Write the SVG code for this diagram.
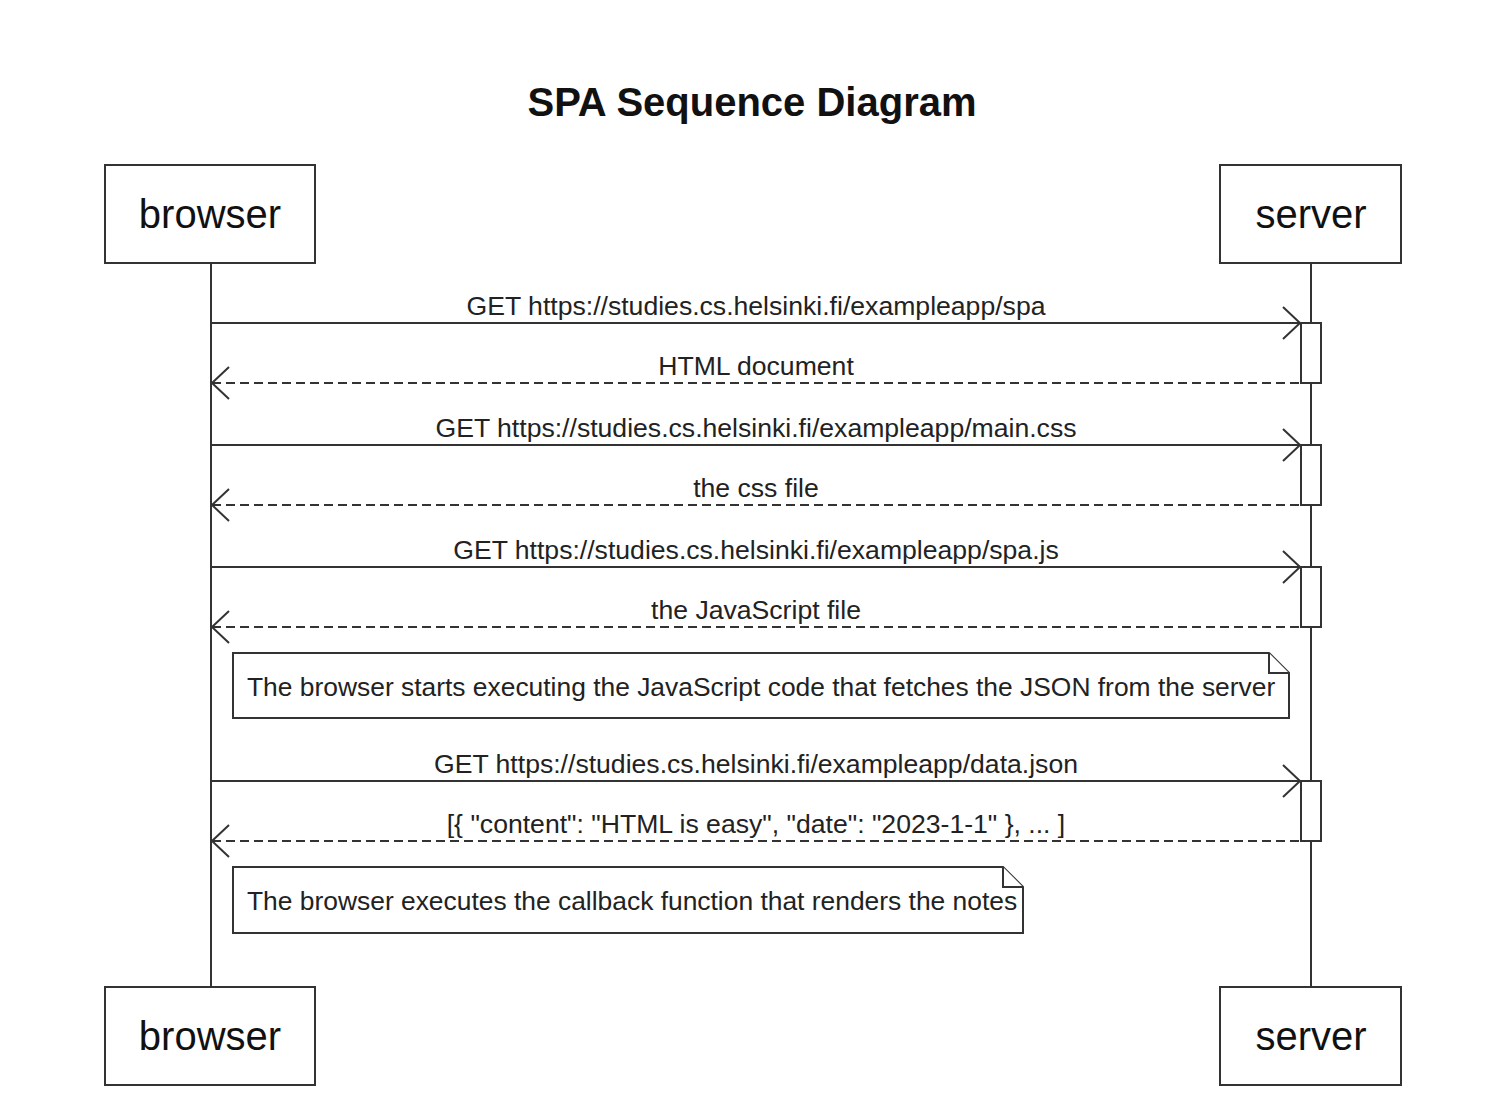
<svg xmlns="http://www.w3.org/2000/svg" width="1504" height="1108" viewBox="0 0 1504 1108">
<style>
.actor{fill:#fff;stroke:#333;stroke-width:2}
.actorText{font-family:"Liberation Sans",Arial,sans-serif;font-size:40px;fill:#111;text-anchor:middle}
.title{font-family:"Liberation Sans",Arial,sans-serif;font-size:40px;font-weight:bold;fill:#111;text-anchor:middle}
.life{stroke:#333;stroke-width:2;fill:none}
.act{fill:#fff;stroke:#333;stroke-width:2}
.msg{stroke:#333;stroke-width:2;fill:none}
.dash{stroke-dasharray:9,5}
.label{font-family:"Liberation Sans",Arial,sans-serif;font-size:26.6px;fill:#222;text-anchor:middle}
.note{fill:#fff;stroke:#333;stroke-width:2}
.noteText{font-family:"Liberation Sans",Arial,sans-serif;font-size:26.4px;fill:#222}
</style>
<defs>
<marker id="open" markerUnits="userSpaceOnUse" markerWidth="24" markerHeight="36" refX="19" refY="17" orient="auto">
<path d="M2,1 L19,17 L2,33" fill="none" stroke="#333" stroke-width="2"/>
</marker>
</defs>
<rect width="1504" height="1108" fill="#fff"/>
<text class="title" x="752" y="116">SPA Sequence Diagram</text>
<g id="lifelines">
<line class="life" x1="211" y1="263" x2="211" y2="987"/>
<line class="life" x1="1311" y1="263" x2="1311" y2="987"/>
</g>
<g id="browser-top"><rect class="actor" x="105" y="165" width="210" height="98"/><text class="actorText" x="210" y="228">browser</text></g>
<g id="server-top"><rect class="actor" x="1220" y="165" width="181" height="98"/><text class="actorText" x="1311" y="228">server</text></g>
<g id="browser-bottom"><rect class="actor" x="105" y="987" width="210" height="98"/><text class="actorText" x="210" y="1050">browser</text></g>
<g id="server-bottom"><rect class="actor" x="1220" y="987" width="181" height="98"/><text class="actorText" x="1311" y="1050">server</text></g>
<g id="activations">
<rect class="act" x="1301" y="323" width="20" height="60"/>
<rect class="act" x="1301" y="445" width="20" height="60"/>
<rect class="act" x="1301" y="567" width="20" height="60"/>
<rect class="act" x="1301" y="781" width="20" height="60"/>
</g>
<g id="connectors">
<line class="msg" x1="211" y1="323" x2="1300" y2="323" marker-end="url(#open)"/>
<line class="msg dash" x1="1299" y1="383" x2="212" y2="383" marker-end="url(#open)"/>
<line class="msg" x1="211" y1="445" x2="1300" y2="445" marker-end="url(#open)"/>
<line class="msg dash" x1="1299" y1="505" x2="212" y2="505" marker-end="url(#open)"/>
<line class="msg" x1="211" y1="567" x2="1300" y2="567" marker-end="url(#open)"/>
<line class="msg dash" x1="1299" y1="627" x2="212" y2="627" marker-end="url(#open)"/>
<line class="msg" x1="211" y1="781" x2="1300" y2="781" marker-end="url(#open)"/>
<line class="msg dash" x1="1299" y1="841" x2="212" y2="841" marker-end="url(#open)"/>
<text class="label" x="756" y="315">GET https://studies.cs.helsinki.fi/exampleapp/spa</text>
<text class="label" x="756" y="375">HTML document</text>
<text class="label" x="756" y="437">GET https://studies.cs.helsinki.fi/exampleapp/main.css</text>
<text class="label" x="756" y="497">the css file</text>
<text class="label" x="756" y="559">GET https://studies.cs.helsinki.fi/exampleapp/spa.js</text>
<text class="label" x="756" y="619">the JavaScript file</text>
<text class="label" x="756" y="773">GET https://studies.cs.helsinki.fi/exampleapp/data.json</text>
<text class="label" x="756" y="833">[{ "content": "HTML is easy", "date": "2023-1-1" }, ... ]</text>
</g>
<g id="note1">
<path class="note" d="M233,653 L1269,653 L1289,673 L1289,718 L233,718 Z"/>
<path class="note" d="M1269,653 L1269,673 L1289,673" fill="none"/>
<text class="noteText" x="247" y="696">The browser starts executing the JavaScript code that fetches the JSON from the server</text>
</g>
<g id="note2">
<path class="note" d="M233,867 L1003,867 L1023,887 L1023,933 L233,933 Z"/>
<path class="note" d="M1003,867 L1003,887 L1023,887" fill="none"/>
<text class="noteText" x="247" y="910">The browser executes the callback function that renders the notes</text>
</g>
</svg>
